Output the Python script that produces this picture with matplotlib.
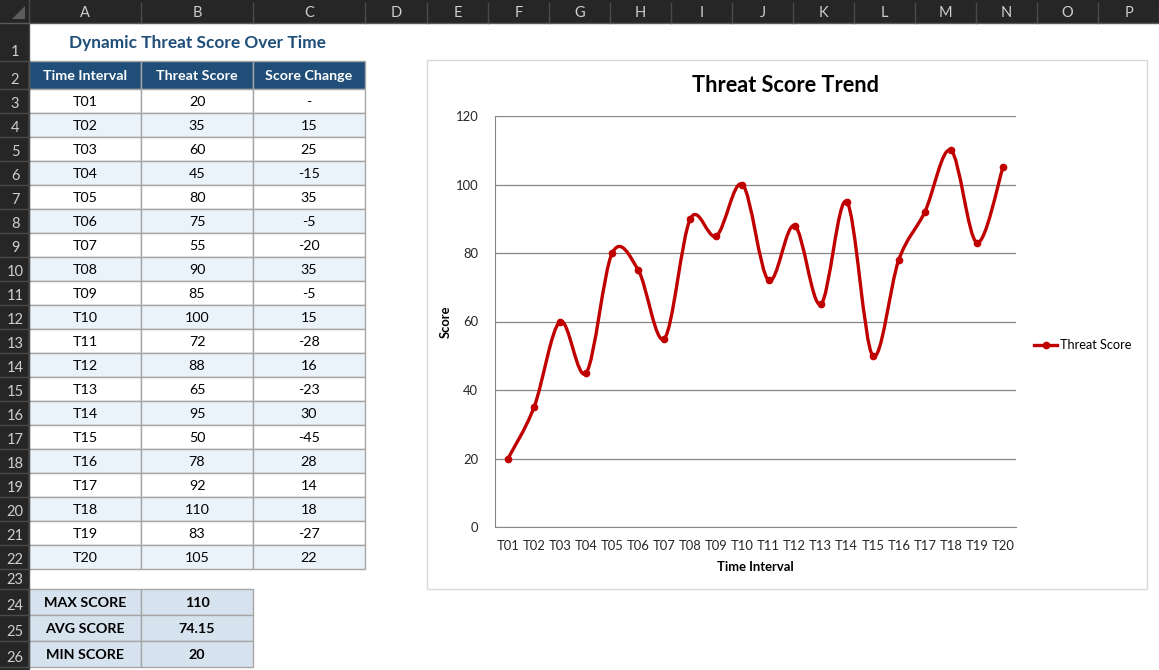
import numpy as np
import matplotlib
matplotlib.use("Agg")
import matplotlib.pyplot as plt
from matplotlib.patches import Rectangle, Polygon, PathPatch
from matplotlib.path import Path
from matplotlib.lines import Line2D

plt.rcParams['font.family'] = ['Lato', 'DejaVu Sans']

# data
intervals = ["T%02d" % i for i in range(1, 21)]
scores = [20, 35, 60, 45, 80, 75, 55, 90, 85, 100, 72, 88, 65, 95, 50, 78, 92, 110, 83, 105]
changes = ["-"] + [str(scores[i] - scores[i - 1]) for i in range(1, len(scores))]
headers = ["Time Interval", "Threat Score", "Score Change"]
summary_labels = ["MAX SCORE", "AVG SCORE", "MIN SCORE"]
summary_values = [str(max(scores)), "%.2f" % (sum(scores) / len(scores)), str(min(scores))]
col_letters = list("ABCDEFGHIJKLMNOP")

# sheet geometry (pixels)
W, H = 1159, 670
col_edges = [29, 141, 253, 365, 427, 488, 549, 610, 671, 732, 793, 854, 915, 976, 1037, 1098, 1159]
row_edges = [23, 61, 89] + [89 + 24 * i for i in range(1, 21)] + [589, 615, 641, 667]

fig = plt.figure(figsize=(W / 100, H / 100), dpi=100)
sh = fig.add_axes([0, 0, 1, 1])
sh.set_xlim(0, W)
sh.set_ylim(H, 0)
sh.axis("off")

hdr_bg = "#262626"
hdr_fg = "#CFCFCF"
sep = "#4A4A4A"

# column header bar
sh.add_patch(Rectangle((0, 0), W, 23, facecolor=hdr_bg, edgecolor="none"))
sh.add_patch(Rectangle((0, 0), 29, H, facecolor=hdr_bg, edgecolor="none"))
sh.add_patch(Polygon([[25, 6], [25, 19], [12, 19]], closed=True, facecolor="#5C5C5C", edgecolor="none"))
for i, letter in enumerate(col_letters):
    x0, x1 = col_edges[i], col_edges[i + 1]
    sh.text((x0 + x1) / 2, 13, letter, ha="center", va="center", color=hdr_fg, fontsize=10.5)
    sh.plot([x1, x1], [3, 23], color=sep, lw=1)
sh.plot([29, 29], [0, H], color=sep, lw=1)
sh.plot([0, W], [23, 23], color="#5A5A5A", lw=1)
for r in range(len(row_edges) - 1):
    y0, y1 = row_edges[r], row_edges[r + 1]
    sh.text(15, y1 - 9, str(r + 1), ha="center", va="center", color=hdr_fg, fontsize=10.5)
    sh.plot([0, 29], [y1, y1], color=sep, lw=1)

# title
sh.text((col_edges[0] + col_edges[3]) / 2, 43, "Dynamic Threat Score Over Time", ha="center", va="center",
        color="#1F4E79", fontsize=12.4, fontweight="bold")

border = "#A6A6A6"

# table header
for c in range(3):
    x0, x1 = col_edges[c], col_edges[c + 1]
    y0, y1 = row_edges[1], row_edges[2]
    sh.add_patch(Rectangle((x0, y0), x1 - x0, y1 - y0, facecolor="#1F4E79", edgecolor=border, lw=1))
    sh.text((x0 + x1) / 2, (y0 + y1) / 2 + 1, headers[c], ha="center", va="center",
            color="white", fontsize=10.3, fontweight="bold")

# table body
for r in range(len(intervals)):
    y0, y1 = row_edges[2 + r], row_edges[3 + r]
    fill = "white" if r % 2 == 0 else "#EAF2FA"
    vals = [intervals[r], str(scores[r]), changes[r]]
    for c in range(3):
        x0, x1 = col_edges[c], col_edges[c + 1]
        sh.add_patch(Rectangle((x0, y0), x1 - x0, y1 - y0, facecolor=fill, edgecolor=border, lw=1))
        sh.text((x0 + x1) / 2, (y0 + y1) / 2 + 1, vals[c], ha="center", va="center",
                color="black", fontsize=10.3)

# summary block
for r in range(3):
    y0, y1 = row_edges[23 + r], row_edges[24 + r]
    vals = [summary_labels[r], summary_values[r]]
    for c in range(2):
        x0, x1 = col_edges[c], col_edges[c + 1]
        sh.add_patch(Rectangle((x0, y0), x1 - x0, y1 - y0, facecolor="#D6E3EF", edgecolor=border, lw=1))
        sh.text((x0 + x1) / 2, (y0 + y1) / 2 + 1, vals[c], ha="center", va="center",
                color="black", fontsize=10.3, fontweight="bold")

# chart box
sh.add_patch(Rectangle((427, 60), 720, 529, facecolor="white", edgecolor="#D9D9D9", lw=1))
sh.text(786, 86, "Threat Score Trend", ha="center", va="center", color="black",
        fontsize=15.6, fontweight="bold")

# chart axes
pl, pr, pt, pb = 495, 1016, 116, 527
ax = fig.add_axes([pl / W, 1 - pb / H, (pr - pl) / W, (pb - pt) / H])
ax.set_facecolor("none")
x = np.arange(len(scores))
y = np.array(scores, dtype=float)

# smoothed line (Excel-style bezier through points)
px = np.concatenate([[x[0]], x, [x[-1]]])
py = np.concatenate([[y[0]], y, [y[-1]]])
verts = [(x[0], y[0])]
codes = [Path.MOVETO]
for i in range(1, len(px) - 2):
    c1 = (px[i] + (px[i + 1] - px[i - 1]) / 6, py[i] + (py[i + 1] - py[i - 1]) / 6)
    c2 = (px[i + 1] - (px[i + 2] - px[i]) / 6, py[i + 1] - (py[i + 2] - py[i]) / 6)
    verts += [c1, c2, (px[i + 1], py[i + 1])]
    codes += [Path.CURVE4] * 3
line_color = "#C00000"
ax.add_patch(PathPatch(Path(verts, codes), facecolor="none", edgecolor=line_color, lw=2.4,
                       capstyle="round", joinstyle="round", zorder=3))
ax.plot(x, y, "o", color=line_color, ms=4.5, zorder=4)

ax.set_xlim(-0.5, len(scores) - 0.5)
ax.set_ylim(0, 120)
ax.set_yticks(range(0, 121, 20))
ax.set_xticks(x)
ax.set_xticklabels(intervals)
ax.grid(axis="y", color="#878787", lw=0.9)
ax.set_axisbelow(True)
ax.tick_params(length=0, labelsize=9.4, colors="#262626", pad=9)
ax.tick_params(axis="y", pad=12)
for s in ["top", "right"]:
    ax.spines[s].set_visible(False)
ax.spines["left"].set_color("#878787")
ax.spines["bottom"].set_color("#878787")
ax.set_xlabel("Time Interval", fontsize=9.4, fontweight="bold", labelpad=7)
ax.set_ylabel("Score", fontsize=9.4, fontweight="bold", labelpad=3)

handle = Line2D([], [], color=line_color, lw=2.4, marker="o", ms=4.5)
ax.legend([handle], ["Threat Score"], loc="center left", bbox_to_anchor=(1034 / W, 1 - 345 / H),
          bbox_transform=fig.transFigure, frameon=False, fontsize=9.2, handlelength=1.8,
          handletextpad=0.2, borderpad=0, borderaxespad=0)

fig.savefig("out.png", dpi=100)
